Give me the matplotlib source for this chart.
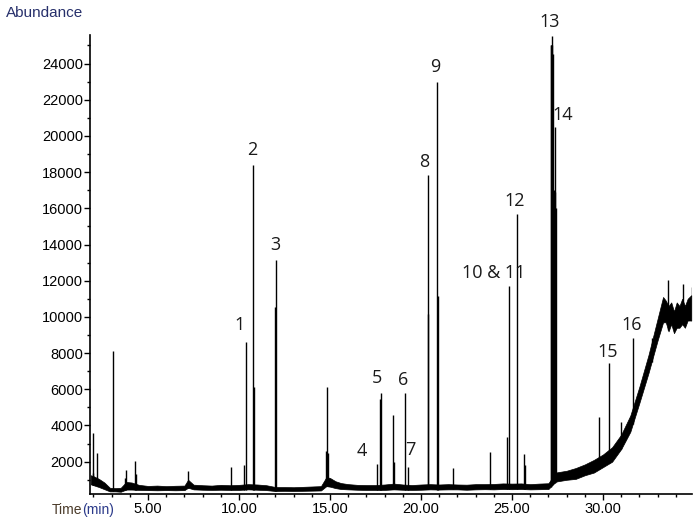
import numpy as np
import matplotlib
matplotlib.use("Agg")
import matplotlib.pyplot as plt
from matplotlib.ticker import MultipleLocator, FixedLocator, FuncFormatter

# ---- baseline noise envelope (time, lower, upper) ----
base_t = [1.85, 2.0, 2.3, 2.6, 2.9, 3.2, 3.5, 3.8, 4.1, 4.5, 5.0, 5.5, 6.0, 6.5, 7.0,
          7.2, 7.5, 8.0, 8.5, 9.0, 9.5, 10.0, 10.5, 11.0, 11.5, 12.0, 12.5, 13.0, 13.5,
          14.0, 14.5, 14.8, 15.0, 15.3, 15.6, 16.0, 16.5, 17.0, 17.5, 18.0, 18.5, 19.0,
          19.5, 20.0, 20.5, 21.0, 21.5, 22.0, 22.5, 23.0, 23.5, 24.0, 24.5, 25.0, 25.5,
          26.0, 26.5, 27.0, 27.4, 28.0, 28.5, 29.0, 29.5, 30.0, 30.5, 31.0, 31.5,
          32.0, 32.5, 33.0, 33.3, 33.45, 33.6, 33.75, 33.9, 34.05, 34.2, 34.35, 34.5,
          34.65, 34.85]
base_lo = [750, 700, 600, 480, 360, 360, 340, 460, 460, 440, 430, 420, 430, 420, 430,
           560, 470, 450, 440, 450, 440, 440, 470, 450, 430, 380, 390, 380, 390,
           400, 410, 650, 620, 540, 490, 470, 450, 440, 440, 440, 470, 450,
           440, 450, 470, 460, 470, 470, 450, 470, 480, 470, 490, 480, 490,
           470, 480, 490, 900, 1000, 1050, 1250, 1400, 1700, 2000, 2700, 3650,
           5250, 6900, 8700, 9700, 9700, 9200, 9600, 9100, 9400, 9400, 9600, 9400,
           9800, 9800]
base_hi = [1250, 1200, 1050, 850, 560, 540, 560, 880, 850, 720, 660, 680, 650, 670, 680,
           1000, 730, 700, 680, 720, 700, 720, 760, 740, 700, 600, 600, 590, 610,
           630, 650, 1150, 1100, 920, 820, 760, 720, 710, 710, 740, 790, 740,
           710, 740, 760, 740, 760, 740, 730, 760, 760, 770, 800, 790, 800,
           760, 790, 810, 1400, 1500, 1650, 1850, 2100, 2400, 2800, 3500, 4550,
           6150, 7900, 9900, 11100, 10900, 10600, 10800, 10300, 10800, 10600, 11000, 10600,
           11000, 11200]

# ---- peaks (retention time in min, apex abundance) ----
peak_rt = [1.95, 1.99, 2.21, 3.08, 3.75, 3.79, 4.29, 4.33, 7.20, 9.56, 10.26, 10.37,
           10.75, 10.80, 11.98, 12.03, 14.80, 14.85, 14.90, 17.56, 17.72, 17.78,
           18.45, 18.50, 19.14, 19.30, 20.37, 20.40, 20.88, 20.93, 21.77, 23.79,
           24.75, 24.84, 25.29, 25.66, 25.72, 27.12, 27.16, 27.20, 27.22, 27.26,
           27.30, 27.34, 27.37, 27.41, 29.80, 30.35, 31.00, 31.63, 32.67, 33.57,
           34.40, 34.87]
peak_h = [1400, 3600, 2500, 8130, 1100, 1540, 2040, 1300, 1490, 1700, 1820, 8630,
          18390, 6130, 10540, 13140, 2600, 6150, 2500, 1870, 5450, 5810,
          4580, 2000, 5810, 1720, 10160, 17840, 22990, 11170, 1650, 2520,
          3380, 11710, 15690, 2420, 1800, 25020, 25020, 25020, 25540, 24500,
          17000, 16920, 20510, 16000, 4490, 7440, 4200, 8850, 8830, 12040,
          11800, 11650]

# ---- peak labels ----
label_text = ["1", "2", "3", "4", "5", "6", "7", "8", "9", "10 & 11", "12", "13",
              "14", "15", "16"]
label_t = [10.05, 10.71, 11.98, 16.74, 17.58, 19.01, 19.43, 20.16, 20.77, 24.01,
           25.16, 27.09, 27.80, 30.27, 31.59]
label_v = [9550, 19220, 13970, 2610, 6620, 6520, 2650, 18560, 23810, 12430,
           16400, 26290, 21150, 8060, 9550]

y_ticks = list(range(2000, 24001, 2000))
x_ticks = [5, 10, 15, 20, 25, 30]

W, H = 700, 529
fig = plt.figure(figsize=(W / 100, H / 100), dpi=100)
ax = fig.add_axes([90 / W, 35 / H, 602 / W, 459 / H])

ax.fill_between(base_t, base_lo, base_hi, color="black", linewidth=0.5,
                edgecolor="black")
bottoms = np.interp(peak_rt, base_t, base_lo)
ax.vlines(peak_rt, bottoms, peak_h, color="black", linewidth=1.0)

for txt, tx, ty in zip(label_text, label_t, label_v):
    ax.text(tx, ty, txt, ha="center", va="center", fontsize=13,
            family="Open Sans", color="#1a1a1a", clip_on=False)

ax.set_xlim(1.81, 34.89)
ax.set_ylim(215, 25575)

for s in ["top", "right"]:
    ax.spines[s].set_visible(False)
for s in ["left", "bottom"]:
    ax.spines[s].set_linewidth(1.2)

ax.xaxis.set_major_locator(FixedLocator(x_ticks))
ax.xaxis.set_minor_locator(MultipleLocator(1))
ax.xaxis.set_major_formatter(FuncFormatter(lambda v, p: f"{v:.2f}"))
ax.yaxis.set_major_locator(FixedLocator(y_ticks))
ax.yaxis.set_minor_locator(MultipleLocator(1000))
ax.tick_params(axis="both", which="major", direction="out", length=4, width=1,
               labelsize=10.5, pad=2)
ax.tick_params(axis="both", which="minor", direction="out", length=2.5, width=1)
for lab in ax.get_xticklabels() + ax.get_yticklabels():
    lab.set_family("Liberation Sans")
ax.tick_params(axis="y", pad=1)

fig.text(6 / W, 1 - 13 / H, "Abundance", ha="left", va="center", fontsize=11,
         family="Liberation Sans", color="#27306b")
fig.text(52 / W, 1 - 510 / H, "Time", ha="left", va="center", fontsize=10,
         family="Liberation Sans", color="#4b3b2a")
fig.text(82 / W, 1 - 510 / H, "(min)", ha="left", va="center", fontsize=10,
         family="Liberation Sans", color="#2b3a8a")

fig.savefig("out.png", dpi=100)
